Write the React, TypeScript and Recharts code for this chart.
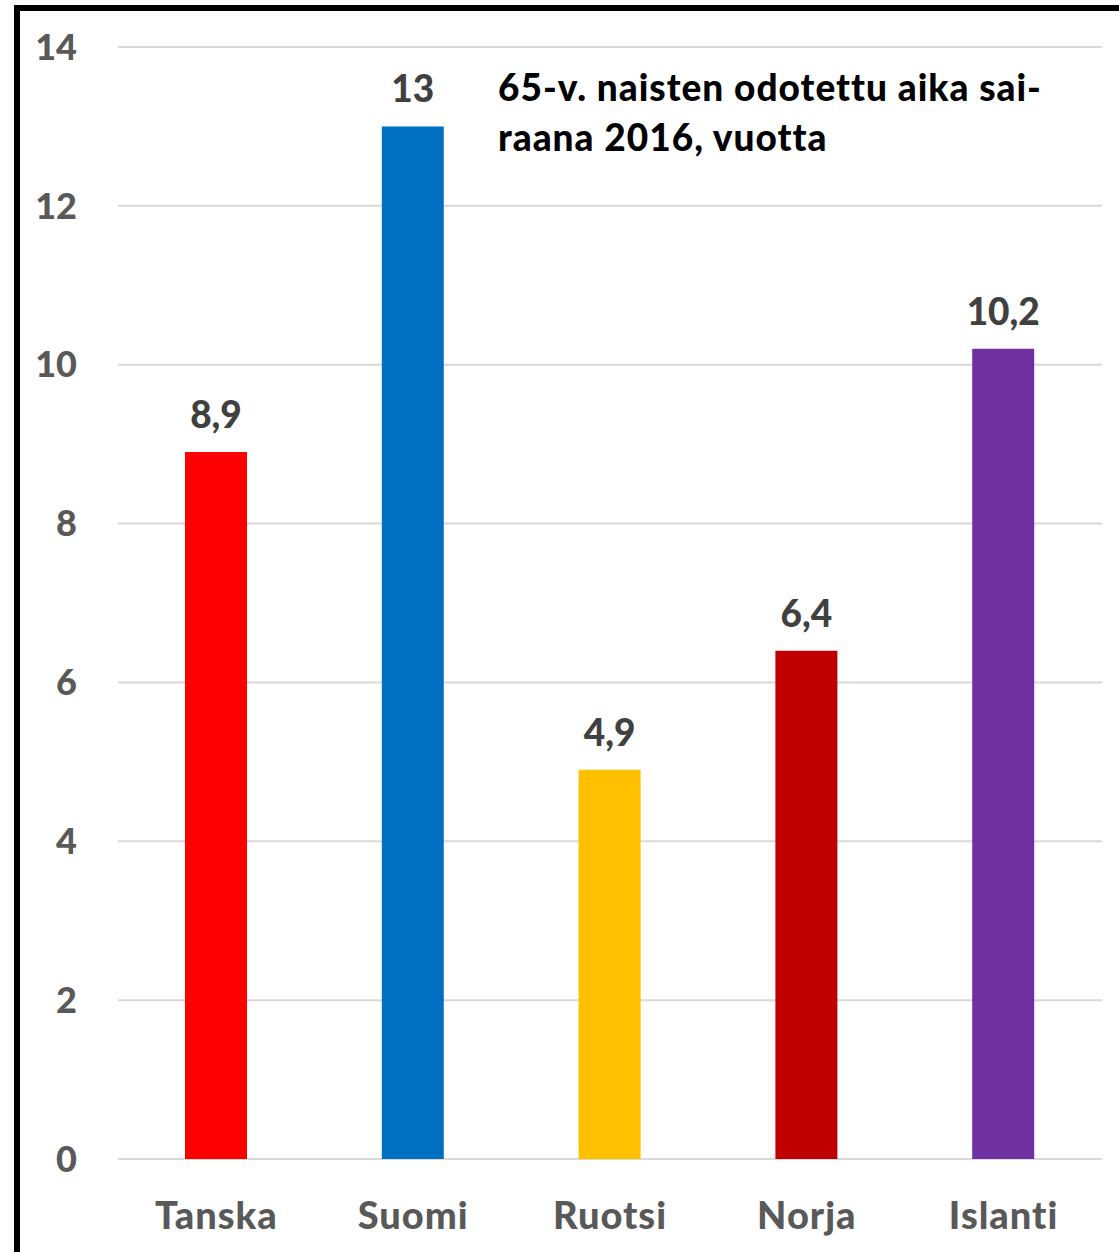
import { BarChart, Bar, XAxis, YAxis, CartesianGrid, Cell, LabelList } from "recharts";

const countries = ["Tanska", "Suomi", "Ruotsi", "Norja", "Islanti"];
const years = [8.9, 13, 4.9, 6.4, 10.2];
const barColors = ["#FF0000", "#0070C0", "#FFC000", "#C00000", "#7030A0"];
const yTicks = [0, 2, 4, 6, 8, 10, 12, 14];

const data = countries.map((name, i) => ({ name, value: years[i] }));

const font = "Lato, 'Open Sans', sans-serif";

export default function App() {
  return (
    <div style={{ position: "fixed", left: 0, top: 0, width: 1119, height: 1252, overflow: "hidden", background: "#fff", fontFamily: font }}>
      {/* frame: only the top and left sides fall inside the picture */}
      <div style={{ position: "absolute", left: 14, top: 5, width: 1200, height: 1300, borderTop: "6px solid #000", borderLeft: "6px solid #000" }} />
      <div style={{ position: "absolute", left: 0, top: 0 }}>
        <BarChart width={1119} height={1252} data={data} margin={{ top: 47, right: 17, left: 0, bottom: 0 }}>
          <CartesianGrid vertical={false} stroke="#D9D9D9" strokeWidth={2} />
          <XAxis
            dataKey="name"
            height={93}
            axisLine={false}
            tickLine={false}
            tickSize={0}
            tickMargin={43}
            tick={{ fill: "#595959", fontSize: 38, fontWeight: 900, fontFamily: font, letterSpacing: 1 }}
          />
          <YAxis
            width={118}
            domain={[0, 14]}
            ticks={yTicks}
            axisLine={false}
            tickLine={false}
            tickSize={0}
            tickMargin={41}
            tick={{ fill: "#595959", fontSize: 36, fontWeight: 900, fontFamily: font }}
          />
          <Bar dataKey="value" barSize={62} isAnimationActive={false}>
            {data.map((d, i) => (
              <Cell key={d.name} fill={barColors[i]} />
            ))}
            <LabelList
              dataKey="value"
              position="top"
              offset={24}
              formatter={(v: number) => String(v).replace(".", ",")}
              style={{ fill: "#404040", fontSize: 37, fontWeight: 900, fontFamily: font }}
            />
          </Bar>
        </BarChart>
      </div>
      <div style={{ position: "absolute", left: 498, top: 62, fontSize: 37, lineHeight: "50px", fontWeight: 900, letterSpacing: 1, color: "#000", whiteSpace: "nowrap" }}>
        65-v. naisten odotettu aika sai-
        <br />
        raana 2016, vuotta
      </div>
    </div>
  );
}
